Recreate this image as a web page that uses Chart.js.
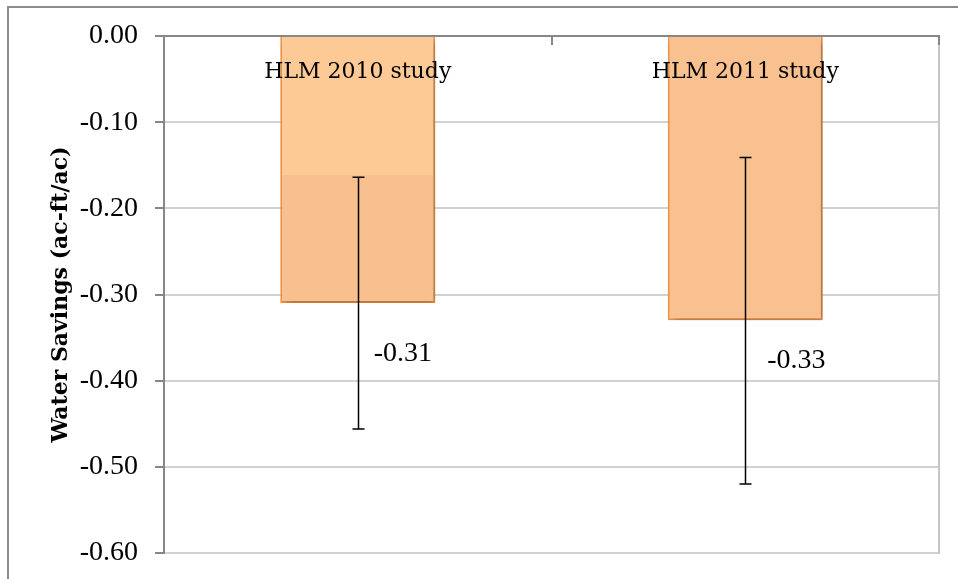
<!DOCTYPE html>
<html>
<head>
<meta charset="utf-8">
<script src="https://cdn.jsdelivr.net/npm/chart.js@4/dist/chart.umd.min.js"></script>
<style>
  html, body { margin: 0; padding: 0; background: #fff; }
  #wrap { width: 958px; height: 579px; }
</style>
</head>
<body>
<div id="wrap"><canvas id="c" width="958" height="579"></canvas></div>
<script>
// Water savings by study, bars hang down from the zero line with error bars.
const categories = ["HLM 2010 study", "HLM 2011 study"];
const savings = [-0.31, -0.33];
const errHigh = [-0.164, -0.141];
const errLow = [-0.456, -0.520];
const yTicks = [0, -0.1, -0.2, -0.3, -0.4, -0.5, -0.6];

const AXIS = "#878787";
const GRID = "#d2d2d2";
const NUM_FONT = "28px 'Liberation Serif', serif";
const LBL_FONT = "22px 'DejaVu Serif', serif";

// per-bar nudge of the value label, relative to bar centre / bar end
const valueOffsets = [[16, 51], [22, 40]];

function barFill(ctx) {
  const chart = ctx.chart;
  const area = chart.chartArea;
  if (ctx.dataIndex !== 0 || !area) return "#f9c18f";
  // first bar shows a lighter band above the upper error cap
  const y = chart.scales.y;
  const cut = y.getPixelForValue(errHigh[0]) - 2;
  const g = chart.ctx.createLinearGradient(0, area.top, 0, area.bottom);
  const f = (cut - area.top) / (area.bottom - area.top);
  g.addColorStop(0, "#fdca96");
  g.addColorStop(f, "#fdca96");
  g.addColorStop(f, "#f8c08f");
  g.addColorStop(1, "#f8c08f");
  return g;
}

const decor = {
  id: "decor",
  beforeDraw(chart) {
    const c = chart.ctx;
    c.save();
    c.strokeStyle = "#8c8c8c";
    c.lineWidth = 2;
    c.beginPath();
    c.moveTo(8, 600); c.lineTo(8, 7); c.lineTo(960, 7);
    c.stroke();
    c.restore();
  },
  beforeDatasetsDraw(chart) {
    const c = chart.ctx;
    c.save();
    c.shadowColor = "rgba(0,0,0,0.3)";
    c.shadowBlur = 7;
    c.shadowOffsetX = 3;
    c.shadowOffsetY = 3;
  },
  afterDatasetsDraw(chart) {
    const c = chart.ctx;
    c.restore();
    const { left, right, top, bottom } = chart.chartArea;
    const x = chart.scales.x, y = chart.scales.y;

    c.save();
    // right border of plot
    c.strokeStyle = "#c6c6c6";
    c.lineWidth = 2;
    c.beginPath(); c.moveTo(right, top); c.lineTo(right, bottom + 1); c.stroke();

    // zero line (category axis) over the bars
    c.strokeStyle = AXIS;
    c.beginPath(); c.moveTo(left - 9, top); c.lineTo(right + 1, top); c.stroke();
    // category boundary ticks
    const bounds = [left];
    for (let i = 0; i < categories.length - 1; i++) {
      bounds.push((x.getPixelForValue(i) + x.getPixelForValue(i + 1)) / 2);
    }
    bounds.push(right);
    bounds.forEach((bx) => {
      c.beginPath(); c.moveTo(Math.round(bx), top); c.lineTo(Math.round(bx), top + 9); c.stroke();
    });

    // error bars
    c.strokeStyle = "#000";
    c.lineWidth = 1.5;
    savings.forEach((v, i) => {
      const px = Math.round(x.getPixelForValue(i)) + 0.5;
      const y1 = y.getPixelForValue(errHigh[i]);
      const y2 = y.getPixelForValue(errLow[i]);
      c.beginPath();
      c.moveTo(px, y1); c.lineTo(px, y2);
      c.moveTo(px - 6, y1); c.lineTo(px + 6, y1);
      c.moveTo(px - 6, y2); c.lineTo(px + 6, y2);
      c.stroke();
    });

    // category labels just under the axis, and value labels
    c.fillStyle = "#000";
    c.textBaseline = "middle";
    categories.forEach((name, i) => {
      c.font = LBL_FONT;
      c.textAlign = "center";
      c.fillText(name, x.getPixelForValue(i), top + 36);
      c.font = NUM_FONT;
      c.textAlign = "left";
      const [dx, dy] = valueOffsets[i];
      c.fillText(savings[i].toFixed(2), x.getPixelForValue(i) + dx, y.getPixelForValue(savings[i]) + dy);
    });

    // y-axis title
    c.font = "bold 22px 'DejaVu Serif', serif";
    c.textAlign = "center";
    c.translate(61, (top + bottom) / 2);
    c.rotate(-Math.PI / 2);
    c.fillText("Water Savings (ac-ft/ac)", 0, 0);
    c.restore();
  },
};

new Chart(document.getElementById("c"), {
  type: "bar",
  data: {
    labels: categories,
    datasets: [{
      data: savings,
      backgroundColor: barFill,
      borderColor: "#f79646",
      borderWidth: 2,
      barPercentage: 0.4,
      categoryPercentage: 1,
    }],
  },
  options: {
    responsive: false,
    animation: false,
    events: [],
    layout: { padding: { left: 0, top: 36, right: 19, bottom: 26 } },
    plugins: { legend: { display: false }, tooltip: { enabled: false } },
    scales: {
      x: { display: false },
      y: {
        min: -0.6,
        max: 0,
        afterFit: (s) => { s.width = 164; s.paddingTop = 0; s.paddingBottom = 0; },
        afterBuildTicks: (s) => { s.ticks = yTicks.map((v) => ({ value: v })); },
        border: { display: true, color: AXIS, width: 2 },
        grid: {
          color: GRID,
          lineWidth: 2,
          tickColor: AXIS,
          tickLength: 9,
        },
        ticks: {
          color: "#000",
          padding: 17,
          font: { family: "'Liberation Serif', serif", size: 28 },
          callback: (v) => Number(v).toFixed(2),
        },
      },
    },
  },
  plugins: [decor],
});
</script>
</body>
</html>
